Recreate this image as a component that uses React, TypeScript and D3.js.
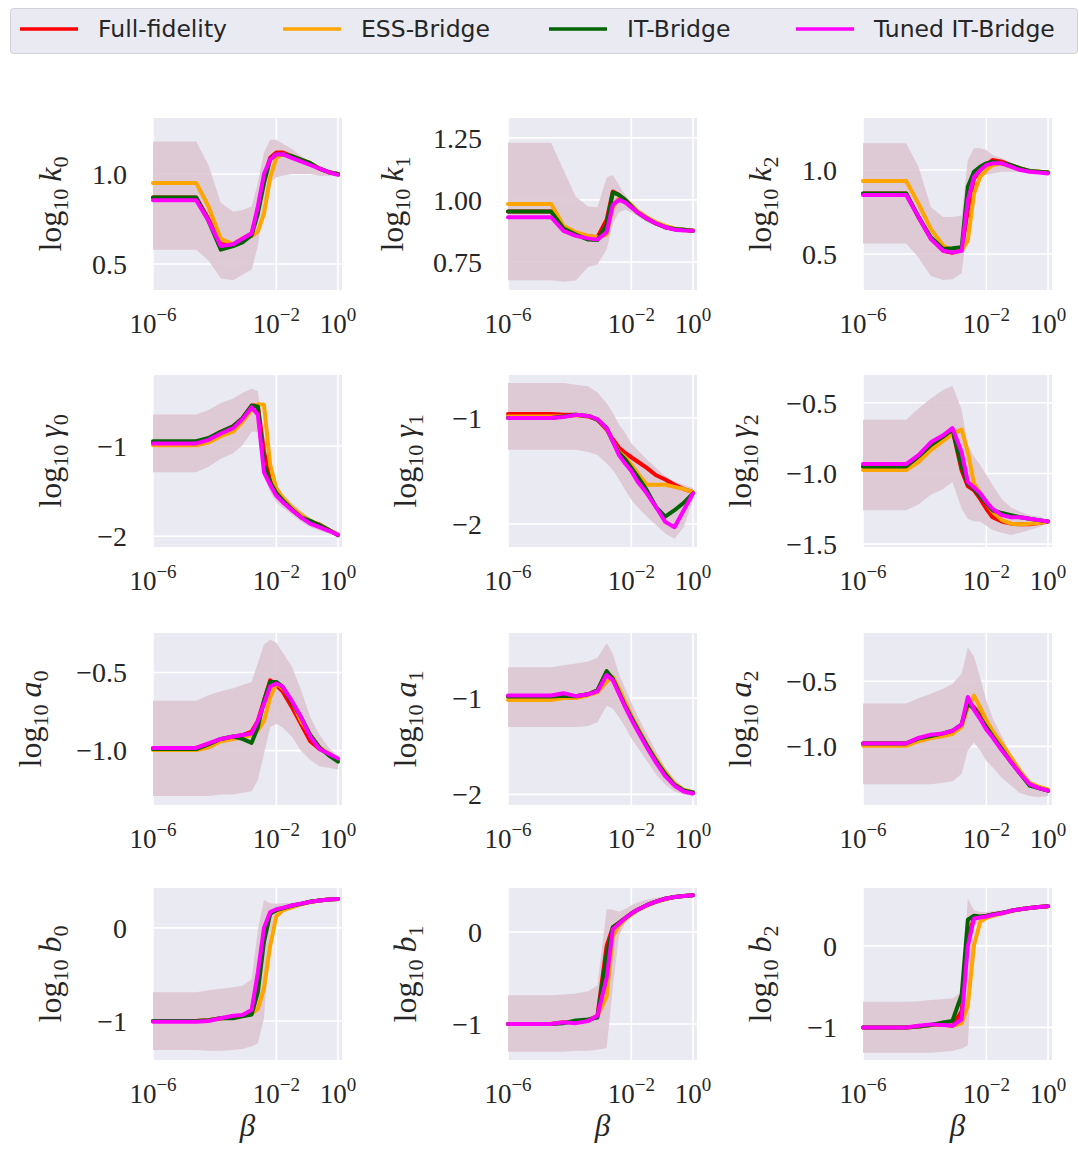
import React, { useEffect } from 'react';
import * as d3 from 'd3';

// log10(beta) grid shared by every panel
const LOG_BETA = [-6, -4.6, -4.2, -3.8, -3.4, -3.1, -2.8, -2.6, -2.4, -2.2, -2.0, -1.8, -1.5, -1.2, -0.9, -0.6, -0.3, 0];

const SERIES = ['Full-fidelity', 'ESS-Bridge', 'IT-Bridge', 'Tuned IT-Bridge'];
const COLORS = ['#ff0000', '#ffa500', '#006400', '#ff00ff'];
const KEYS = ['full', 'ess', 'it', 'tuned'];

const k0 = {
  full: [0.87, 0.87, 0.75, 0.61, 0.61, 0.64, 0.67, 0.80, 0.98, 1.09, 1.12, 1.12, 1.10, 1.08, 1.06, 1.03, 1.01, 1.00],
  ess: [0.95, 0.95, 0.82, 0.64, 0.61, 0.64, 0.655, 0.68, 0.78, 0.98, 1.09, 1.11, 1.10, 1.08, 1.06, 1.03, 1.01, 1.00],
  it: [0.87, 0.87, 0.74, 0.58, 0.60, 0.62, 0.66, 0.78, 0.95, 1.08, 1.11, 1.11, 1.10, 1.08, 1.06, 1.03, 1.01, 1.00],
  tuned: [0.855, 0.855, 0.74, 0.60, 0.61, 0.64, 0.67, 0.82, 1.00, 1.08, 1.11, 1.11, 1.09, 1.07, 1.05, 1.03, 1.01, 0.995],
  lo: [0.58, 0.58, 0.52, 0.42, 0.41, 0.44, 0.47, 0.60, 0.85, 0.95, 0.98, 0.99, 1.00, 1.00, 1.00, 0.99, 0.99, 0.99],
  hi: [1.18, 1.18, 1.05, 0.84, 0.79, 0.80, 0.82, 0.95, 1.12, 1.19, 1.19, 1.17, 1.14, 1.10, 1.07, 1.04, 1.02, 1.00],
};
const k1 = {
  full: [0.953, 0.953, 0.89, 0.865, 0.854, 0.85, 0.92, 1.034, 1.02, 1.00, 0.975, 0.95, 0.925, 0.905, 0.89, 0.883, 0.88, 0.876],
  ess: [0.984, 0.984, 0.895, 0.87, 0.855, 0.85, 0.86, 0.97, 1.01, 1.00, 0.98, 0.955, 0.93, 0.91, 0.895, 0.885, 0.88, 0.878],
  it: [0.953, 0.953, 0.885, 0.86, 0.84, 0.838, 0.90, 1.03, 1.02, 1.00, 0.975, 0.95, 0.925, 0.905, 0.89, 0.883, 0.88, 0.876],
  tuned: [0.93, 0.93, 0.875, 0.855, 0.845, 0.84, 0.87, 0.98, 1.00, 0.99, 0.97, 0.95, 0.925, 0.905, 0.89, 0.88, 0.877, 0.876],
  lo: [0.676, 0.676, 0.67, 0.675, 0.73, 0.74, 0.80, 0.905, 0.95, 0.96, 0.95, 0.935, 0.91, 0.895, 0.88, 0.875, 0.872, 0.872],
  hi: [1.23, 1.23, 1.12, 1.013, 0.973, 0.97, 1.09, 1.10, 1.06, 1.02, 0.99, 0.965, 0.94, 0.92, 0.90, 0.89, 0.885, 0.88],
};
const k2 = {
  full: [0.861, 0.861, 0.72, 0.593, 0.52, 0.508, 0.524, 0.76, 0.95, 1.00, 1.03, 1.06, 1.05, 1.03, 1.01, 0.995, 0.99, 0.985],
  ess: [0.935, 0.935, 0.80, 0.65, 0.55, 0.52, 0.52, 0.58, 0.86, 0.96, 1.00, 1.03, 1.04, 1.02, 1.01, 0.995, 0.99, 0.985],
  it: [0.861, 0.861, 0.72, 0.60, 0.53, 0.534, 0.54, 0.90, 0.99, 1.02, 1.04, 1.05, 1.04, 1.03, 1.01, 0.995, 0.99, 0.985],
  tuned: [0.851, 0.851, 0.72, 0.59, 0.52, 0.51, 0.52, 0.82, 0.96, 1.00, 1.03, 1.04, 1.04, 1.02, 1.00, 0.99, 0.985, 0.98],
  lo: [0.563, 0.563, 0.48, 0.37, 0.345, 0.35, 0.385, 0.70, 0.92, 0.96, 0.97, 0.98, 0.99, 0.99, 0.99, 0.985, 0.985, 0.985],
  hi: [1.159, 1.159, 1.02, 0.78, 0.72, 0.72, 0.73, 1.06, 1.13, 1.13, 1.12, 1.09, 1.07, 1.04, 1.02, 1.00, 0.99, 0.985],
};
const g0 = {
  full: [-0.96, -0.96, -0.92, -0.84, -0.78, -0.69, -0.55, -0.55, -1.06, -1.38, -1.51, -1.60, -1.70, -1.78, -1.84, -1.87, -1.93, -1.985],
  ess: [-0.99, -0.99, -0.96, -0.89, -0.84, -0.73, -0.60, -0.535, -0.54, -1.21, -1.47, -1.57, -1.68, -1.76, -1.83, -1.88, -1.93, -1.985],
  it: [-0.945, -0.945, -0.91, -0.84, -0.78, -0.69, -0.55, -0.56, -1.21, -1.40, -1.52, -1.60, -1.70, -1.79, -1.83, -1.88, -1.93, -1.99],
  tuned: [-0.97, -0.97, -0.93, -0.86, -0.80, -0.70, -0.57, -0.65, -1.29, -1.43, -1.55, -1.62, -1.71, -1.79, -1.86, -1.90, -1.94, -1.985],
  lo: [-1.29, -1.29, -1.23, -1.14, -1.08, -0.99, -0.84, -0.84, -1.32, -1.51, -1.62, -1.68, -1.76, -1.84, -1.90, -1.94, -1.97, -2.00],
  hi: [-0.65, -0.65, -0.60, -0.52, -0.47, -0.41, -0.36, -0.39, -0.84, -1.29, -1.43, -1.53, -1.63, -1.72, -1.80, -1.85, -1.90, -1.97],
};
const g1 = {
  full: [-0.962, -0.962, -0.97, -0.97, -0.985, -1.016, -1.11, -1.20, -1.28, -1.33, -1.37, -1.41, -1.47, -1.54, -1.58, -1.63, -1.67, -1.70],
  ess: [-0.985, -0.985, -0.985, -0.975, -0.985, -1.01, -1.10, -1.22, -1.32, -1.37, -1.44, -1.52, -1.63, -1.63, -1.63, -1.65, -1.67, -1.70],
  it: [-1.0, -1.0, -0.985, -0.97, -0.98, -1.016, -1.095, -1.22, -1.33, -1.39, -1.47, -1.55, -1.68, -1.84, -1.93, -1.87, -1.80, -1.71],
  tuned: [-1.0, -1.0, -0.99, -0.97, -0.98, -1.01, -1.095, -1.22, -1.35, -1.43, -1.50, -1.60, -1.71, -1.84, -1.98, -2.03, -1.87, -1.71],
  lo: [-1.30, -1.30, -1.30, -1.30, -1.32, -1.35, -1.43, -1.49, -1.58, -1.68, -1.77, -1.84, -1.93, -2.01, -2.09, -2.14, -2.03, -1.77],
  hi: [-0.67, -0.67, -0.67, -0.685, -0.70, -0.76, -0.86, -0.95, -1.06, -1.14, -1.24, -1.30, -1.39, -1.47, -1.55, -1.60, -1.63, -1.66],
};
const g2 = {
  full: [-0.953, -0.953, -0.88, -0.80, -0.74, -0.69, -0.98, -1.09, -1.12, -1.18, -1.25, -1.31, -1.34, -1.355, -1.36, -1.36, -1.35, -1.34],
  ess: [-0.976, -0.976, -0.92, -0.835, -0.77, -0.72, -0.69, -0.85, -1.07, -1.14, -1.21, -1.27, -1.33, -1.355, -1.36, -1.355, -1.35, -1.34],
  it: [-0.95, -0.95, -0.88, -0.80, -0.74, -0.69, -0.95, -1.07, -1.11, -1.16, -1.21, -1.26, -1.28, -1.295, -1.31, -1.32, -1.33, -1.34],
  tuned: [-0.934, -0.934, -0.87, -0.78, -0.73, -0.68, -0.85, -1.06, -1.10, -1.14, -1.20, -1.25, -1.295, -1.31, -1.31, -1.32, -1.33, -1.34],
  lo: [-1.26, -1.26, -1.22, -1.15, -1.11, -1.06, -1.25, -1.32, -1.34, -1.34, -1.37, -1.40, -1.42, -1.435, -1.42, -1.40, -1.38, -1.35],
  hi: [-0.62, -0.62, -0.54, -0.47, -0.41, -0.38, -0.55, -0.80, -0.88, -0.94, -1.01, -1.08, -1.18, -1.24, -1.27, -1.295, -1.305, -1.33],
};
const a0 = {
  full: [-0.983, -0.983, -0.957, -0.93, -0.914, -0.90, -0.878, -0.81, -0.68, -0.55, -0.58, -0.62, -0.72, -0.83, -0.94, -0.99, -1.02, -1.06],
  ess: [-0.996, -0.996, -0.98, -0.94, -0.925, -0.914, -0.90, -0.87, -0.81, -0.66, -0.57, -0.60, -0.68, -0.81, -0.90, -0.98, -1.02, -1.06],
  it: [-0.99, -0.99, -0.96, -0.925, -0.91, -0.925, -0.95, -0.85, -0.68, -0.56, -0.56, -0.59, -0.69, -0.785, -0.90, -0.98, -1.03, -1.07],
  tuned: [-0.983, -0.983, -0.953, -0.925, -0.91, -0.90, -0.89, -0.81, -0.70, -0.59, -0.57, -0.59, -0.68, -0.785, -0.91, -0.99, -1.02, -1.05],
  lo: [-1.29, -1.29, -1.29, -1.28, -1.28, -1.27, -1.26, -1.19, -1.02, -0.85, -0.83, -0.85, -0.91, -1.00, -1.06, -1.10, -1.11, -1.12],
  hi: [-0.68, -0.68, -0.646, -0.62, -0.60, -0.58, -0.56, -0.44, -0.32, -0.29, -0.31, -0.37, -0.46, -0.61, -0.785, -0.90, -0.98, -1.04],
};
const a1 = {
  full: [-0.983, -0.983, -0.972, -0.98, -0.96, -0.92, -0.73, -0.80, -0.94, -1.08, -1.20, -1.32, -1.49, -1.65, -1.79, -1.90, -1.96, -1.98],
  ess: [-1.02, -1.02, -1.0, -1.0, -0.97, -0.94, -0.83, -0.78, -0.90, -1.04, -1.18, -1.30, -1.48, -1.63, -1.77, -1.89, -1.95, -1.98],
  it: [-0.983, -0.983, -0.975, -0.98, -0.96, -0.92, -0.72, -0.80, -0.94, -1.08, -1.20, -1.32, -1.49, -1.65, -1.79, -1.90, -1.96, -1.98],
  tuned: [-0.972, -0.972, -0.95, -0.98, -0.96, -0.93, -0.76, -0.815, -0.955, -1.09, -1.22, -1.34, -1.51, -1.67, -1.81, -1.91, -1.97, -1.99],
  lo: [-1.30, -1.30, -1.30, -1.30, -1.29, -1.25, -1.08, -1.11, -1.20, -1.30, -1.42, -1.51, -1.65, -1.79, -1.90, -1.97, -2.00, -2.02],
  hi: [-0.68, -0.68, -0.66, -0.64, -0.62, -0.58, -0.43, -0.54, -0.75, -0.90, -1.04, -1.18, -1.37, -1.55, -1.72, -1.84, -1.93, -1.97],
};
const a2 = {
  full: [-0.977, -0.977, -0.94, -0.92, -0.905, -0.89, -0.84, -0.65, -0.70, -0.76, -0.84, -0.905, -1.01, -1.11, -1.21, -1.29, -1.32, -1.34],
  ess: [-0.995, -0.995, -0.96, -0.935, -0.92, -0.905, -0.85, -0.70, -0.61, -0.70, -0.80, -0.88, -0.98, -1.085, -1.19, -1.28, -1.31, -1.33],
  it: [-0.977, -0.977, -0.94, -0.92, -0.90, -0.88, -0.83, -0.67, -0.71, -0.78, -0.85, -0.92, -1.02, -1.12, -1.21, -1.30, -1.32, -1.34],
  tuned: [-0.977, -0.977, -0.935, -0.91, -0.90, -0.88, -0.83, -0.62, -0.72, -0.79, -0.87, -0.93, -1.03, -1.12, -1.21, -1.29, -1.32, -1.34],
  lo: [-1.29, -1.29, -1.29, -1.29, -1.28, -1.27, -1.21, -1.03, -0.97, -1.03, -1.11, -1.16, -1.24, -1.30, -1.36, -1.38, -1.39, -1.38],
  hi: [-0.67, -0.67, -0.63, -0.595, -0.557, -0.52, -0.44, -0.24, -0.31, -0.47, -0.65, -0.78, -0.92, -1.06, -1.18, -1.27, -1.30, -1.33],
};
const b0 = {
  full: [-1.0, -1.0, -0.99, -0.97, -0.954, -0.943, -0.90, -0.55, -0.10, 0.16, 0.19, 0.21, 0.237, 0.258, 0.28, 0.293, 0.304, 0.31],
  ess: [-1.0, -1.0, -0.99, -0.975, -0.96, -0.943, -0.92, -0.87, -0.65, -0.19, 0.124, 0.187, 0.22, 0.254, 0.278, 0.293, 0.304, 0.31],
  it: [-1.0, -1.0, -0.99, -0.97, -0.97, -0.95, -0.93, -0.69, -0.15, 0.15, 0.19, 0.21, 0.237, 0.258, 0.28, 0.293, 0.304, 0.31],
  tuned: [-1.007, -1.007, -1.0, -0.97, -0.943, -0.936, -0.88, -0.48, 0.0, 0.17, 0.20, 0.215, 0.24, 0.26, 0.28, 0.293, 0.304, 0.31],
  lo: [-1.31, -1.31, -1.32, -1.32, -1.31, -1.30, -1.27, -1.24, -0.97, -0.05, 0.124, 0.166, 0.20, 0.23, 0.258, 0.28, 0.293, 0.304],
  hi: [-0.69, -0.69, -0.67, -0.654, -0.636, -0.62, -0.55, -0.02, 0.30, 0.265, 0.258, 0.265, 0.27, 0.286, 0.30, 0.307, 0.314, 0.318],
};
const b1 = {
  full: [-1.0, -1.0, -0.98, -0.975, -0.957, -0.91, -0.15, 0.05, 0.10, 0.15, 0.20, 0.24, 0.29, 0.33, 0.36, 0.38, 0.39, 0.397],
  ess: [-1.0, -1.0, -0.98, -0.975, -0.957, -0.92, -0.70, -0.05, 0.07, 0.14, 0.19, 0.235, 0.285, 0.325, 0.355, 0.378, 0.39, 0.397],
  it: [-1.0, -1.0, -0.99, -0.96, -0.95, -0.93, -0.25, 0.05, 0.10, 0.15, 0.20, 0.24, 0.29, 0.33, 0.36, 0.38, 0.39, 0.397],
  tuned: [-1.0, -1.0, -0.98, -0.99, -0.967, -0.91, -0.50, 0.03, 0.09, 0.15, 0.20, 0.24, 0.29, 0.33, 0.36, 0.38, 0.39, 0.397],
  lo: [-1.30, -1.30, -1.30, -1.29, -1.29, -1.28, -1.26, -0.60, -0.04, 0.10, 0.16, 0.21, 0.27, 0.318, 0.354, 0.372, 0.383, 0.39],
  hi: [-0.686, -0.686, -0.68, -0.668, -0.643, -0.58, 0.25, 0.24, 0.22, 0.25, 0.29, 0.32, 0.35, 0.37, 0.386, 0.394, 0.397, 0.40],
};
const b2 = {
  full: [-1.0, -1.0, -0.99, -0.97, -0.963, -0.98, -0.80, 0.10, 0.343, 0.355, 0.367, 0.384, 0.404, 0.43, 0.45, 0.465, 0.478, 0.486],
  ess: [-1.0, -1.0, -0.99, -0.97, -0.963, -0.98, -0.95, -0.73, 0.008, 0.294, 0.343, 0.37, 0.40, 0.425, 0.45, 0.465, 0.478, 0.486],
  it: [-1.0, -1.0, -0.99, -0.97, -0.94, -0.92, -0.60, 0.32, 0.37, 0.36, 0.367, 0.384, 0.404, 0.43, 0.45, 0.465, 0.478, 0.486],
  tuned: [-1.0, -1.0, -0.98, -0.963, -0.97, -0.98, -0.90, 0.0, 0.335, 0.347, 0.36, 0.38, 0.40, 0.43, 0.45, 0.465, 0.478, 0.486],
  lo: [-1.31, -1.31, -1.31, -1.31, -1.30, -1.29, -1.26, -1.22, 0.253, 0.294, 0.314, 0.335, 0.367, 0.396, 0.424, 0.449, 0.465, 0.478],
  hi: [-0.686, -0.686, -0.68, -0.665, -0.653, -0.645, -0.563, 0.58, 0.437, 0.416, 0.416, 0.424, 0.437, 0.449, 0.465, 0.478, 0.486, 0.49],
};

const PANELS = [
  { sym: 'k', sub: '0', data: k0, ylim: [0.356, 1.311], ticks: [0.5, 1.0], dec: 1 },
  { sym: 'k', sub: '1', data: k1, ylim: [0.637, 1.33], ticks: [0.75, 1.0, 1.25], dec: 2 },
  { sym: 'k', sub: '2', data: k2, ylim: [0.286, 1.31], ticks: [0.5, 1.0], dec: 1 },
  { sym: 'γ', sub: '0', data: g0, ylim: [-2.12, -0.21], ticks: [-2, -1], dec: 0 },
  { sym: 'γ', sub: '1', data: g1, ylim: [-2.217, -0.594], ticks: [-2, -1], dec: 0 },
  { sym: 'γ', sub: '2', data: g2, ylim: [-1.52, -0.304], ticks: [-1.5, -1.0, -0.5], dec: 1 },
  { sym: 'a', sub: '0', data: a0, ylim: [-1.348, -0.247], ticks: [-1.0, -0.5], dec: 1 },
  { sym: 'a', sub: '1', data: a1, ylim: [-2.11, -0.324], ticks: [-2, -1], dec: 0 },
  { sym: 'a', sub: '2', data: a2, ylim: [-1.45, -0.129], ticks: [-1.0, -0.5], dec: 1 },
  { sym: 'b', sub: '0', data: b0, ylim: [-1.418, 0.428], ticks: [-1, 0], dec: 0 },
  { sym: 'b', sub: '1', data: b1, ylim: [-1.39, 0.477], ticks: [-1, 0], dec: 0 },
  { sym: 'b', sub: '2', data: b2, ylim: [-1.4, 0.71], ticks: [-1, 0], dec: 0 },
];

const X_TICKS = [-6, -2, 0];

const W = 1079;
const H = 1149;
const COL_LEFT = [153, 508, 863];
const ROW_TOP = [118, 375, 633, 888];
const PW = 189;
const PH = 172;
const SERIF = "'Liberation Serif', 'DejaVu Serif', serif";
const SANS = "'DejaVu Sans', sans-serif";
const TXT = '#262626';

const fmt = (v: number, dec: number) => v.toFixed(dec).replace('-', '\u2212');

// rough width of the label in the reference's font, used for layout only
const refWidth = (s: string, size: number) => {
  let w = 0;
  for (const c of s) w += c === '\u2212' ? 0.778 : c === '.' ? 0.278 : 0.5;
  return w * size;
};

function Panel({ p, i }: { p: any; i: number }) {
  const left = COL_LEFT[i % 3];
  const top = ROW_TOP[Math.floor(i / 3)];
  const x = d3.scaleLog().domain([1e-6, Math.pow(10, 0.13)]).range([0, PW]);
  const y = d3.scaleLinear().domain(p.ylim).range([PH, 0]);
  const pts = LOG_BETA.map((b, j) => ({ b: Math.pow(10, b), j }));

  const area = d3.area<any>()
    .x(d => x(d.b))
    .y0(d => y(p.data.lo[d.j]))
    .y1(d => y(p.data.hi[d.j]));

  const labels = p.ticks.map((t: number) => fmt(t, p.dec));
  const maxW = Math.max(...labels.map((s: string) => refWidth(s, 26)));
  const ylabX = -26 - maxW - 33;
  const isBottom = Math.floor(i / 3) === 3;

  return (
    <g transform={`translate(${left},${top})`}>
      <rect x={0} y={0} width={PW} height={PH} fill="#eaeaf2" />
      {p.ticks.map((t: number) => (
        <line key={'gy' + t} x1={0} x2={PW} y1={y(t)} y2={y(t)} stroke="#fff" strokeWidth={1.6} />
      ))}
      {X_TICKS.map(t => (
        <line key={'gx' + t} x1={x(Math.pow(10, t))} x2={x(Math.pow(10, t))} y1={0} y2={PH} stroke="#fff" strokeWidth={1.6} />
      ))}
      <path d={area(pts) || ''} fill="rgb(221,199,210)" fillOpacity={0.9} />
      {KEYS.map((k, s) => {
        const line = d3.line<any>().x(d => x(d.b)).y(d => y(p.data[k][d.j]));
        return (
          <path key={k} d={line(pts) || ''} fill="none" stroke={COLORS[s]} strokeWidth={4}
            strokeLinejoin="round" strokeLinecap="round" />
        );
      })}
      {p.ticks.map((t: number, j: number) => (
        <text key={'ty' + t} x={-26} y={y(t)} dy="0.35em" textAnchor="end" fontFamily={SERIF}
          fontSize={28} fill={TXT}>{labels[j]}</text>
      ))}
      {X_TICKS.map(t => (
        <text key={'tx' + t} x={x(Math.pow(10, t))} y={PH + 43} textAnchor="middle" fontFamily={SERIF}
          fontSize={27} fill={TXT}>
          10<tspan fontSize={19} dy={-12}>{fmt(t, 0)}</tspan>
        </text>
      ))}
      <text transform={`translate(${ylabX},${PH / 2}) rotate(-90)`} textAnchor="middle"
        fontFamily={SERIF} fontSize={32} fill={TXT}>
        log<tspan fontSize={22} dy={7}>10</tspan>
        <tspan dx={7} dy={-7} fontStyle="italic">{p.sym}</tspan>
        <tspan fontSize={22} dy={7}>{p.sub}</tspan>
      </text>
      {isBottom && (
        <text x={PW / 2} y={PH + 76} textAnchor="middle" fontFamily={SERIF} fontStyle="italic"
          fontSize={31} fill={TXT}>β</text>
      )}
    </g>
  );
}

const LEGEND_X = [20, 283, 549, 796];

export default function App() {
  useEffect(() => {
    document.body.style.margin = '0';
  }, []);

  return (
    <svg width={W} height={H} style={{ display: 'block', background: '#fff' }}>
      <rect x={10.5} y={8.5} width={1067} height={45} rx={3} fill="#eaeaf2" stroke="#d0d0d8" />
      {SERIES.map((name, s) => (
        <g key={name} transform={`translate(${LEGEND_X[s]},0)`}>
          <line x1={0} x2={58} y1={29} y2={29} stroke={COLORS[s]} strokeWidth={3.6} />
          <text x={78} y={37} fontFamily={SANS} fontSize={23.5} fill={TXT}>{name}</text>
        </g>
      ))}
      {PANELS.map((p, i) => <Panel key={i} p={p} i={i} />)}
    </svg>
  );
}
